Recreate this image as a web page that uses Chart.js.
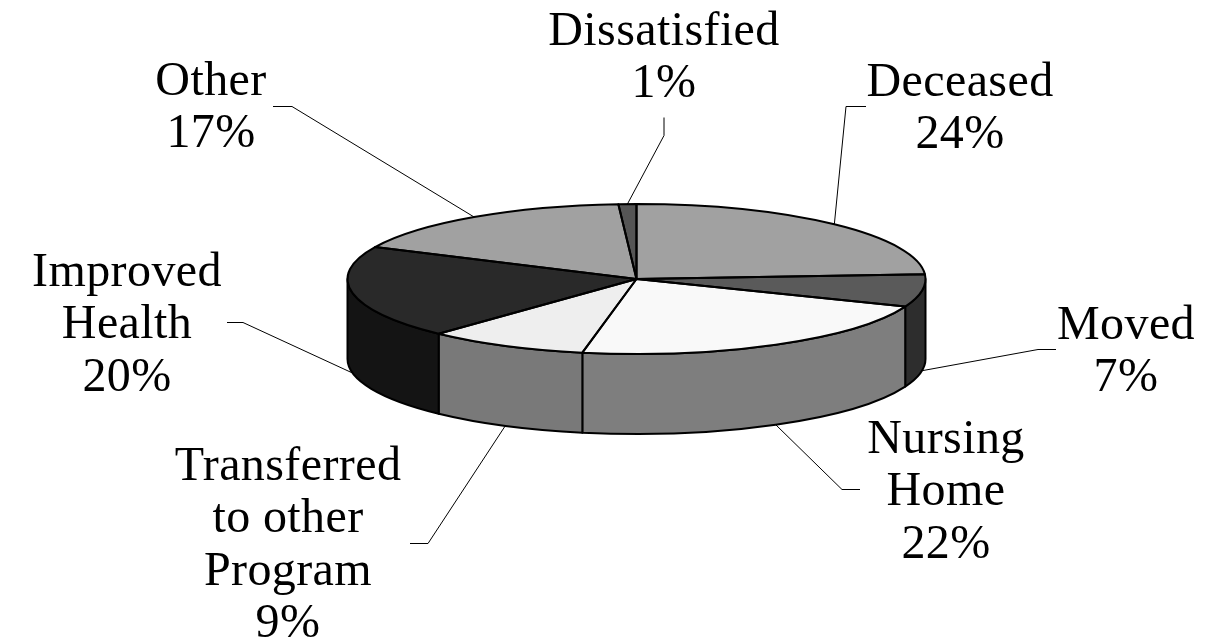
<!DOCTYPE html>
<html>
<head>
<meta charset="utf-8">
<title>Reasons for leaving</title>
<script src="https://cdn.jsdelivr.net/npm/chart.js@4"></script>
<style>
    html, body { margin: 0; padding: 0; background: #fff; }
    canvas { display: block; }
</style>
</head>
<body>
<canvas id="pie" width="1216" height="644"></canvas>
<script>
// Clockwise from 12 o'clock
const categories = ['Deceased', 'Moved', 'Nursing Home', 'Transferred to other Program', 'Improved Health', 'Other', 'Dissatisfied'];
const values = [24, 7, 22, 9, 20, 17, 1];
const labelLines = [['Deceased'], ['Moved'], ['Nursing', 'Home'], ['Transferred', 'to other', 'Program'], ['Improved', 'Health'], ['Other'], ['Dissatisfied']];
const topColors = ['#a1a1a1', '#5a5a5a', '#f9f9f9', '#eeeeee', '#292929', '#a1a1a1', '#555555'];
const wallColors = ['#505050', '#2d2d2d', '#7e7e7e', '#797979', '#141414', '#505050', '#2a2a2a'];

// Where each label sits: centre x, first baseline, then the elbow of its leader line
const labelBoxes = [
    { x: 960, y: 96, elbow: [[866, 106], [846, 106]] },
    { x: 1126, y: 339, elbow: [[1056, 349], [1038, 349]] },
    { x: 946, y: 453, elbow: [[860, 489], [842, 489]] },
    { x: 288, y: 480, elbow: [[410, 543], [428, 543]] },
    { x: 127, y: 286, elbow: [[227, 322], [243, 322]] },
    { x: 211, y: 95, elbow: [[273, 106], [292, 106]] },
    { x: 664, y: 45, elbow: [[664, 117], [664, 135]] }
];

const PIE_RADIUS = 289;
const TOP_Y = 279;      // centre of the flattened top face
const SQUASH = 75 / 289;
const DEPTH = 80;
const LINE_HEIGHT = 52.3;

// Arc elements give the angles, so everything below follows the data
function tracePie(ctx, arc) {
    const ry = arc.outerRadius * SQUASH;
    ctx.beginPath();
    ctx.moveTo(arc.x, TOP_Y);
    ctx.ellipse(arc.x, TOP_Y, arc.outerRadius, ry, 0, arc.startAngle, arc.endAngle);
    ctx.closePath();
}

const pie3d = {
    id: 'pie3d',
    beforeDatasetsDraw(chart) {
        const ctx = chart.ctx;
        const arcs = chart.getDatasetMeta(0).data;

        // side walls, only the part facing us
        arcs.forEach((arc, i) => {
            const from = Math.max(arc.startAngle, 0);
            const to = Math.min(arc.endAngle, Math.PI);
            if (to <= from) return;
            const ry = arc.outerRadius * SQUASH;
            ctx.beginPath();
            ctx.ellipse(arc.x, TOP_Y, arc.outerRadius, ry, 0, from, to);
            ctx.ellipse(arc.x, TOP_Y + DEPTH, arc.outerRadius, ry, 0, to, from, true);
            ctx.closePath();
            ctx.fillStyle = wallColors[i];
            ctx.fill();
            ctx.lineWidth = 2;
            ctx.strokeStyle = '#000';
            ctx.lineJoin = 'round';
            ctx.stroke();
        });

        // flatten the pie that Chart.js draws next
        const cy = arcs[0].y;
        ctx.save();
        ctx.translate(0, TOP_Y);
        ctx.scale(1, SQUASH);
        ctx.translate(0, -cy);
    },
    afterDatasetsDraw(chart) {
        const ctx = chart.ctx;
        ctx.restore();
        const arcs = chart.getDatasetMeta(0).data;

        arcs.forEach(arc => {
            tracePie(ctx, arc);
            ctx.lineWidth = 2;
            ctx.strokeStyle = '#000';
            ctx.lineJoin = 'round';
            ctx.stroke();
        });

        // leader lines run from the middle of the slice's rim to the label
        arcs.forEach((arc, i) => {
            const mid = (arc.startAngle + arc.endAngle) / 2;
            const rimX = arc.x + arc.outerRadius * Math.cos(mid);
            let rimY = TOP_Y + arc.outerRadius * SQUASH * Math.sin(mid);
            if (Math.sin(mid) > 0) rimY += DEPTH;
            const elbow = labelBoxes[i].elbow;
            ctx.beginPath();
            ctx.moveTo(elbow[0][0], elbow[0][1] + 0.5);
            ctx.lineTo(elbow[1][0], elbow[1][1] + 0.5);
            ctx.lineTo(rimX, rimY);
            ctx.lineWidth = 1;
            ctx.strokeStyle = '#000';
            ctx.stroke();
        });

        // labels
        ctx.fillStyle = '#000';
        ctx.font = '48px "Liberation Serif", serif';
        ctx.letterSpacing = '0.4px';
        ctx.textAlign = 'center';
        ctx.textBaseline = 'alphabetic';
        labelLines.forEach((lines, i) => {
            const box = labelBoxes[i];
            lines.concat(values[i] + '%').forEach((line, n) => {
                ctx.fillText(line, box.x, box.y + n * LINE_HEIGHT);
            });
        });
    }
};

new Chart(document.getElementById('pie'), {
    type: 'pie',
    data: {
        labels: categories,
        datasets: [{
            data: values,
            backgroundColor: topColors,
            borderWidth: 0,
            radius: PIE_RADIUS
        }]
    },
    options: {
        responsive: false,
        animation: false,
        events: [],
        layout: { padding: { left: 57 } },
        plugins: {
            legend: { display: false },
            tooltip: { enabled: false }
        }
    },
    plugins: [pie3d]
});
</script>
</body>
</html>
